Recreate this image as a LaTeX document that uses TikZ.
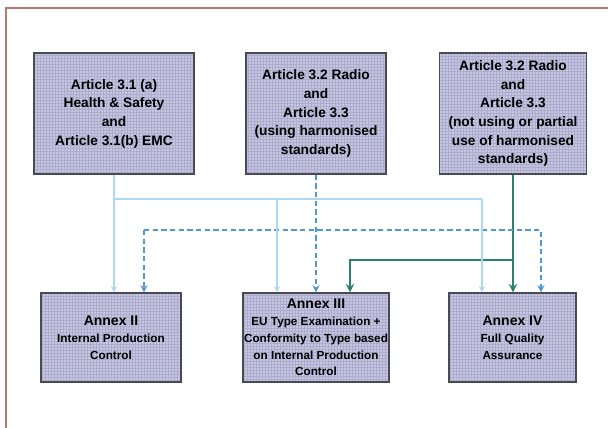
\documentclass[tikz,border=0pt]{standalone}
\usepackage{fontspec}
\setmainfont{Liberation Sans}
\definecolor{boxfill}{HTML}{C6C6E2}
\definecolor{boxgrid}{HTML}{ACACCC}
\definecolor{boxline}{HTML}{4A4A55}
\definecolor{lightflow}{HTML}{AED8F0}
\definecolor{dashflow}{HTML}{4F98D2}
\definecolor{greenflow}{HTML}{2B8272}
\definecolor{framered}{HTML}{B37A6F}
\newcommand\anxhead[1]{{\fontsize{10.5}{13}\selectfont #1}}
\tikzset{box/.style = {rectangle, draw=boxline, line width=0.9pt, fill=boxfill, inner sep=0pt, align=center,
                       path picture={\draw[boxgrid, line width=0.2pt, step=2.25pt]
                         (path picture bounding box.south west) grid (path picture bounding box.north east);}},
         art/.style = {box, minimum height=90.75pt, font=\bfseries\fontsize{10.3}{14}\selectfont},
         anx/.style = {box, minimum height=66.75pt, font=\bfseries\fontsize{8.8}{12.6}\selectfont},
         lb/.style = {draw=lightflow, line width=1.1pt},
         db/.style = {draw=dashflow, line width=1.4pt, dash pattern=on 4pt off 2.5pt},
         gb/.style = {draw=greenflow, line width=1.8pt}}

\begin{document}
\begin{tikzpicture}[x=0.75pt, y=-0.75pt, >=stealth]
    \useasboundingbox (0,0) rectangle (608,428);
    \draw[framered, line width=1.1pt] (6,428) -- (6,8) -- (608,8);
    \node[art, minimum width=120pt] (art31) at (114,113.5) {Article 3.1 (a)\\Health \& Safety\\and\\Article 3.1(b) EMC};
    \node[art, minimum width=105pt] (art32) at (316,113.5) {Article 3.2 Radio\\and\\Article 3.3\\(using harmonised\\standards)};
    \node[art, minimum width=110.25pt] (art33) at (513,113.5) {Article 3.2 Radio\\and\\Article 3.3\\(not using or partial\\use of harmonised\\standards)};
    \node[anx, minimum width=105pt] (anx2) at (111,337.5) {\anxhead{Annex II}\\Internal Production\\Control};
    \node[anx, minimum width=109.5pt] (anx3) at (316,337.5) {\anxhead{Annex III}\\EU Type Examination +\\Conformity to Type based\\on Internal Production\\Control};
    \node[anx, minimum width=95.25pt] (anx4) at (512.5,337.5) {\anxhead{Annex IV}\\Full Quality\\Assurance};
    \coordinate (gj) at (513,260); \coordinate (gl) at (350,260);
    \coordinate (dl) at (144,230); \coordinate (dr) at (541,230);
    \coordinate (lj) at (114,199); \coordinate (lm) at (277,199); \coordinate (lr) at (482,199);
    \draw[gb, ->] (art33.south) -- (art33.south |- anx4.north);
    \draw[gb, ->] (gj) -- (gl) -- (gl |- anx3.north);
    \draw[db, ->] (art32.south) -- (art32.south |- anx3.north);
    \draw[db, ->] (dl) -- (dr) -- (dr |- anx4.north);
    \draw[db, ->] (dl) -- (dl |- anx2.north);
    \draw[lb] (art31.south) -- (lj) -- (lr);
    \draw[lb, ->] (lj) -- (lj |- anx2.north);
    \draw[lb, ->] (lm) -- (lm |- anx3.north);
    \draw[lb, ->] (lr) -- (lr |- anx4.north);
\end{tikzpicture}
\end{document}
